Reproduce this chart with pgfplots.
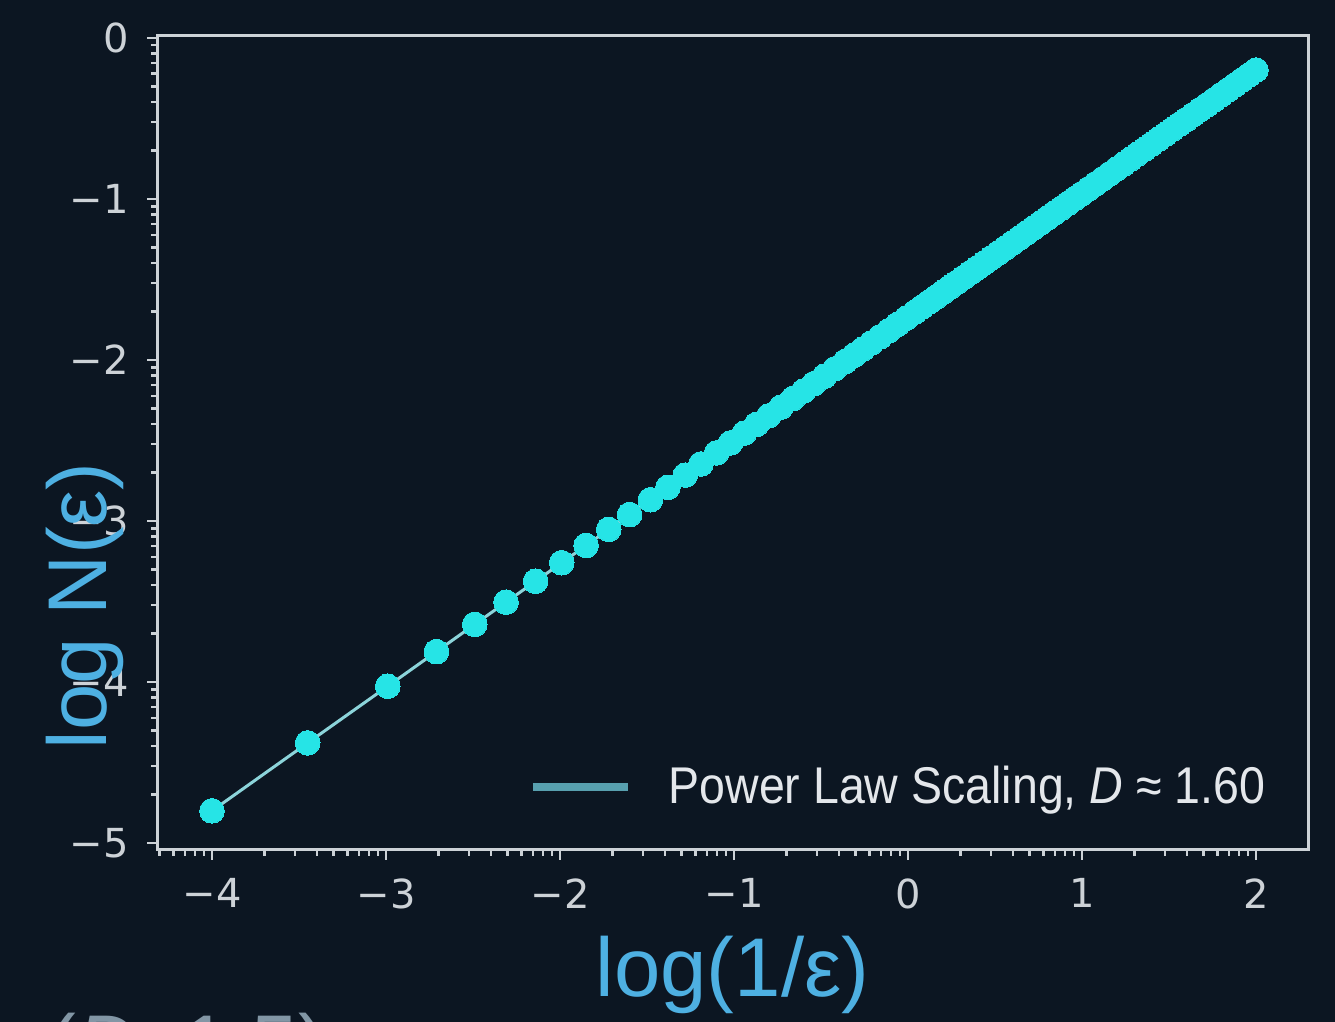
\documentclass[border=0pt]{standalone}
\usepackage{fontspec}
\setmainfont{DejaVu Sans}
\newfontfamily\labfont{Liberation Sans}
\newfontfamily\legfont[FakeStretch=0.9]{Liberation Sans}
\usepackage{pgfplots}
\pgfplotsset{compat=1.18}
\definecolor{bg}{RGB}{12,22,34}
\definecolor{fg}{RGB}{205,210,215}
\definecolor{cy}{RGB}{38,228,230}
\definecolor{cyline}{RGB}{140,212,218}
\definecolor{legline}{RGB}{88,160,175}
\definecolor{lab}{RGB}{78,176,226}
\definecolor{faint}{RGB}{130,150,165}
\definecolor{legtext}{RGB}{228,231,235}
\begin{document}
\begin{tikzpicture}
\clip (-47.1pt,-51.6pt) rectangle (353.4pt,255pt);
\fill[bg] (-47.1pt,-51.6pt) rectangle (353.4pt,255pt);
\node[anchor=north west,inner sep=0pt,text=faint,font=\labfont\fontsize{25}{30}\selectfont] at (-32.7pt,-48.6pt) {(\textit{D}≈1.5)};
\begin{axis}[
 at={(0pt,0pt)}, anchor=south west,
 scale only axis, width=345.3pt, height=244.2pt,
 xmin=-4.316, xmax=2.299, ymin=-5.043, ymax=0.012,
 axis line style={fg, line width=0.9pt},
 xtick={-4,-3,-2,-1,0,1,2},
 xticklabels={−4,−3,−2,−1,0,1,2},
 ytick={-5,-4,-3,-2,-1,0},
 yticklabels={−5,−4,−3,−2,−1,0},
 minor xtick={-4.301,-4.222,-4.155,-4.097,-4.046,
  -3.699,-3.523,-3.398,-3.301,-3.222,-3.155,-3.097,-3.046,
  -2.699,-2.523,-2.398,-2.301,-2.222,-2.155,-2.097,-2.046,
  -1.699,-1.523,-1.398,-1.301,-1.222,-1.155,-1.097,-1.046,
  -0.699,-0.523,-0.398,-0.301,-0.222,-0.155,-0.097,-0.046,
  0.301,0.477,0.602,0.699,0.778,0.845,0.903,0.954,
  1.301,1.477,1.602,1.699,1.778,1.845,1.903,1.954},
 minor ytick={-4.699,-4.523,-4.398,-4.301,-4.222,-4.155,-4.097,-4.046,
  -3.699,-3.523,-3.398,-3.301,-3.222,-3.155,-3.097,-3.046,
  -2.699,-2.523,-2.398,-2.301,-2.222,-2.155,-2.097,-2.046,
  -1.699,-1.523,-1.398,-1.301,-1.222,-1.155,-1.097,-1.046,
  -0.699,-0.523,-0.398,-0.301,-0.222,-0.155,-0.097,-0.046},
 tick align=outside, xtick pos=bottom, ytick pos=left,
 major tick length=3pt, minor tick length=1.8pt,
 every tick/.style={fg, line width=0.7pt},
 tick label style={text=fg, font=\fontsize{12}{14}\selectfont},
 xticklabel style={yshift=-2pt},
 yticklabel style={xshift=-2pt},
 xlabel={log(1/ε)}, ylabel={log N(ε)},
 xlabel style={at={(axis description cs:0.5,-0.1536)}, anchor=center, font=\labfont\fontsize{25}{30}\selectfont, text=lab},
 ylabel style={at={(axis description cs:-0.0626,0.30)}, anchor=center, font=\labfont\fontsize{25}{30}\selectfont, text=lab},
 legend style={draw=none, fill=none, text=legtext, font=\legfont\fontsize{15.5}{18}\selectfont,
   at={(axis description cs:0.9635,0.0774)}, anchor=east, inner sep=0pt, column sep=11pt, nodes={inner sep=0pt}},
 legend image code/.code={\draw[legline, line width=2.4pt] (0pt,0pt) -- (28.5pt,0pt);},
]
\addplot[cyline, line width=0.9pt, mark=*, mark size=3.7pt, mark options={fill=cy, draw=cy, line width=0pt}] coordinates {
(-4.00,-4.800) (-3.45,-4.378) (-2.99,-4.026) (-2.71,-3.811) (-2.49,-3.642)
(-2.31,-3.504) (-2.14,-3.374) (-1.99,-3.259) (-1.85,-3.152) (-1.72,-3.052)
(-1.60,-2.960) (-1.48,-2.868) (-1.38,-2.791) (-1.28,-2.715) (-1.19,-2.646)
(-1.10,-2.577) (-1.02,-2.515) (-0.94,-2.454) (-0.87,-2.400) (-0.80,-2.347)
(-0.73,-2.293) (-0.66,-2.239) (-0.60,-2.193) (-0.54,-2.147) (-0.48,-2.101)
(-0.42,-2.055) (-0.36,-2.009) (-0.31,-1.971) (-0.26,-1.933) (-0.21,-1.894)
(-0.16,-1.856) (-0.11,-1.818) (-0.06,-1.779) (-0.01,-1.741) (0.04,-1.703)
(0.08,-1.672) (0.12,-1.641) (0.16,-1.611) (0.20,-1.580) (0.24,-1.549)
(0.28,-1.519) (0.32,-1.488) (0.36,-1.457) (0.40,-1.427) (0.44,-1.396)
(0.48,-1.365) (0.52,-1.335) (0.56,-1.304) (0.60,-1.273) (0.64,-1.243)
(0.68,-1.212) (0.72,-1.181) (0.76,-1.151) (0.80,-1.120) (0.84,-1.089)
(0.88,-1.059) (0.92,-1.028) (0.96,-0.997) (1.00,-0.967) (1.04,-0.936)
(1.08,-0.905) (1.12,-0.875) (1.16,-0.844) (1.20,-0.813) (1.24,-0.783)
(1.28,-0.752) (1.32,-0.721) (1.36,-0.691) (1.40,-0.660) (1.44,-0.629)
(1.48,-0.599) (1.52,-0.568) (1.56,-0.537) (1.60,-0.507) (1.64,-0.476)
(1.68,-0.445) (1.72,-0.415) (1.76,-0.384) (1.80,-0.353) (1.84,-0.323)
(1.88,-0.292) (1.92,-0.261) (1.96,-0.231) (2.00,-0.200)
};
\addlegendentry{Power Law Scaling, \textit{D} ≈ 1.60}
\end{axis}
\end{tikzpicture}
\end{document}
